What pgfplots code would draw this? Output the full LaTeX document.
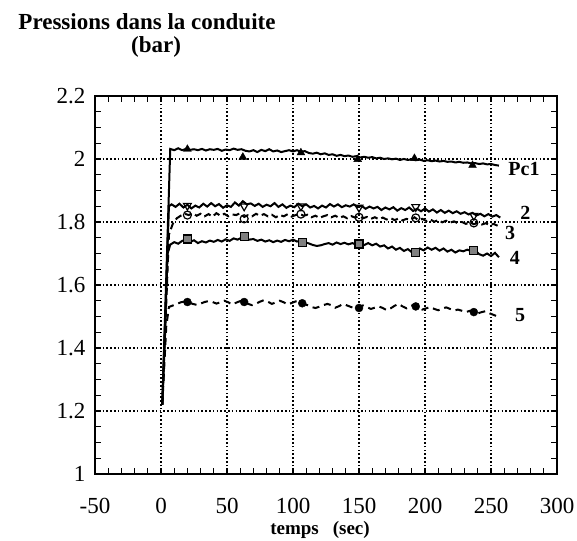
\documentclass[border=0pt]{standalone}
\usepackage{fontspec}
\setmainfont{Liberation Serif}
\usepackage{pgfplots}
\pgfplotsset{compat=1.18}
\begin{document}
\begin{tikzpicture}
\useasboundingbox (-95pt,-66pt) rectangle (482pt,474pt);
\begin{axis}[
  scale only axis, width=462pt, height=378pt,
  xmin=-50, xmax=300, ymin=1, ymax=2.2,
  xtick={-50,0,50,100,150,200,250,300},
  ytick={1,1.2,1.4,1.6,1.8,2,2.2},
  minor x tick num=4, minor y tick num=3,
  tick align=inside,
  major tick length=6pt, minor tick length=6pt,
  every tick/.style={line width=1.3pt, black},
  axis line style={line width=1.8pt},
  grid=major,
  major grid style={line width=1.6pt, dash pattern=on 1.6pt off 2.2pt, black},
  /pgf/number format/assume math mode=true,
  ticklabel style={font=\fontsize{23}{27}\selectfont},
  xticklabel style={yshift=-21pt},
  yticklabel style={xshift=-6pt},
  clip=false,
]
% Pc1
\addplot[black, line width=2pt] coordinates {
(1,1.22) (7,2.032) (10,2.028) (13,2.034) (16,2.028) (19,2.032) (22,2.029) (25,2.031) (28,2.028) (31,2.032) (34,2.027) (37,2.031) (40,2.029) (43,2.032) (46,2.026) (49,2.030) (52,2.028) (55,2.033) (58,2.029) (61,2.031) (64,2.026) (67,2.024) (70,2.028) (73,2.022) (76,2.029) (79,2.025) (82,2.031) (85,2.024) (88,2.027) (91,2.022) (94,2.025) (97,2.028) (100,2.024) (103,2.028) (106,2.023) (109,2.025) (112,2.019) (115,2.017) (118,2.020) (121,2.015) (124,2.018) (127,2.013) (130,2.015) (133,2.010) (136,2.013) (139,2.009) (142,2.011) (145,2.007) (148,2.009) (151,2.005) (154,2.007) (157,2.004) (160,2.006) (163,2.002) (166,2.004) (169,2.000) (172,2.002) (175,1.999) (178,2.001) (181,1.997) (184,2.000) (187,1.997) (190,1.999) (193,1.996) (196,1.998) (199,1.994) (202,1.996) (205,1.993) (208,1.995) (211,1.992) (214,1.994) (217,1.991) (220,1.992) (223,1.989) (226,1.991) (229,1.988) (232,1.989) (235,1.986) (238,1.987) (241,1.984) (244,1.986) (247,1.983) (250,1.984) (253,1.981) (256,1.979)
};
\addplot[only marks, mark=triangle*, mark size=4.5pt, black] coordinates {
(20,2.031) (62,2.006) (106,2.020) (149,1.999) (192,2.002) (236,1.980)
};
% line 2
\addplot[black, line width=2pt] coordinates {
(1,1.22) (6,1.850) (8,1.856) (11,1.848) (14,1.858) (17,1.846) (20,1.855) (23,1.843) (26,1.852) (29,1.846) (32,1.858) (35,1.849) (38,1.860) (41,1.850) (44,1.857) (47,1.845) (50,1.853) (53,1.848) (56,1.862) (59,1.852) (62,1.866) (65,1.856) (68,1.859) (71,1.851) (74,1.858) (77,1.848) (80,1.855) (83,1.850) (86,1.860) (89,1.848) (92,1.856) (95,1.845) (98,1.852) (101,1.847) (104,1.858) (107,1.850) (110,1.856) (113,1.846) (116,1.851) (119,1.843) (122,1.852) (125,1.846) (128,1.857) (131,1.849) (134,1.856) (137,1.847) (140,1.853) (143,1.849) (146,1.856) (149,1.848) (152,1.851) (155,1.842) (158,1.849) (161,1.843) (164,1.848) (167,1.838) (170,1.846) (173,1.840) (176,1.847) (179,1.836) (182,1.844) (185,1.838) (188,1.846) (191,1.835) (194,1.842) (197,1.834) (200,1.843) (203,1.833) (206,1.840) (209,1.830) (212,1.838) (215,1.829) (218,1.836) (221,1.828) (224,1.834) (227,1.826) (230,1.831) (233,1.824) (236,1.829) (239,1.821) (242,1.826) (245,1.818) (248,1.825) (251,1.817) (254,1.822) (257,1.814)
};
\addplot[only marks, mark=triangle, mark options={rotate=180, line width=1.2pt}, mark size=4.5pt, black] coordinates {
(20,1.852) (63,1.850) (106,1.850) (150,1.846) (193,1.848) (237,1.820)
};
% line 3
\addplot[black, line width=2pt, dash pattern=on 7pt off 4pt] coordinates {
(1,1.22) (6,1.760) (9,1.795) (12,1.812) (15,1.820) (18,1.826) (21,1.822) (24,1.828) (27,1.820) (30,1.826) (33,1.818) (36,1.825) (39,1.817) (42,1.828) (45,1.820) (48,1.826) (51,1.818) (54,1.824) (57,1.822) (60,1.828) (63,1.816) (66,1.822) (69,1.818) (72,1.826) (75,1.820) (78,1.825) (81,1.818) (84,1.823) (87,1.815) (90,1.822) (93,1.818) (96,1.825) (99,1.817) (102,1.822) (105,1.826) (108,1.820) (111,1.823) (114,1.815) (117,1.820) (120,1.813) (123,1.818) (126,1.822) (129,1.815) (132,1.820) (135,1.813) (138,1.818) (141,1.812) (144,1.819) (147,1.814) (150,1.819) (153,1.812) (156,1.816) (159,1.810) (162,1.815) (165,1.809) (168,1.814) (171,1.808) (174,1.812) (177,1.806) (180,1.811) (183,1.805) (186,1.810) (189,1.806) (192,1.815) (195,1.806) (198,1.810) (201,1.803) (204,1.808) (207,1.801) (210,1.806) (213,1.799) (216,1.804) (219,1.798) (222,1.802) (225,1.796) (228,1.800) (231,1.794) (234,1.799) (237,1.793) (240,1.797) (243,1.792) (246,1.796) (249,1.790) (252,1.794) (255,1.788)
};
\addplot[only marks, mark=o, mark size=4pt, mark options={line width=1.2pt}, black] coordinates {
(20,1.822) (63,1.810) (106,1.825) (150,1.815) (193,1.813) (237,1.797)
};
% line 4
\addplot[black, line width=2pt] coordinates {
(1,1.22) (5,1.700) (7,1.728) (10,1.736) (13,1.731) (16,1.740) (19,1.744) (22,1.736) (25,1.742) (28,1.733) (31,1.739) (34,1.735) (37,1.741) (40,1.737) (43,1.743) (46,1.738) (49,1.745) (52,1.740) (55,1.748) (58,1.744) (61,1.750) (64,1.748) (67,1.744) (70,1.746) (73,1.740) (76,1.744) (79,1.738) (82,1.742) (85,1.736) (88,1.741) (91,1.737) (94,1.743) (97,1.739) (100,1.744) (103,1.738) (106,1.740) (109,1.736) (112,1.732) (115,1.727) (118,1.724) (121,1.726) (124,1.730) (127,1.733) (130,1.728) (133,1.735) (136,1.730) (139,1.734) (142,1.729) (145,1.733) (148,1.728) (151,1.732) (154,1.727) (157,1.733) (160,1.726) (163,1.731) (166,1.722) (169,1.726) (172,1.716) (175,1.722) (178,1.712) (181,1.718) (184,1.708) (187,1.714) (190,1.704) (193,1.706) (196,1.716) (199,1.710) (202,1.719) (205,1.712) (208,1.718) (211,1.709) (214,1.716) (217,1.706) (220,1.712) (223,1.703) (226,1.710) (229,1.707) (232,1.712) (235,1.708) (238,1.710) (241,1.698) (244,1.693) (247,1.700) (250,1.692) (253,1.702) (256,1.688)
};
\addplot[only marks, mark=square*, mark size=4pt, mark options={fill=gray, draw=black, line width=1.2pt}] coordinates {
(20,1.746) (63,1.754) (107,1.736) (150,1.730) (193,1.704) (237,1.710)
};
% line 5
\addplot[black, line width=2pt, dash pattern=on 7pt off 5pt] coordinates {
(1,1.22) (4,1.470) (6,1.530) (9,1.535) (12,1.540) (15,1.545) (18,1.548) (21,1.545) (24,1.540) (27,1.537) (30,1.541) (33,1.546) (36,1.549) (39,1.546) (42,1.541) (45,1.545) (48,1.550) (51,1.545) (54,1.538) (57,1.544) (60,1.549) (63,1.545) (66,1.540) (69,1.536) (72,1.541) (75,1.547) (78,1.552) (81,1.547) (84,1.540) (87,1.545) (90,1.550) (93,1.545) (96,1.538) (99,1.543) (102,1.548) (105,1.544) (108,1.540) (111,1.536) (114,1.530) (117,1.527) (120,1.531) (123,1.536) (126,1.540) (129,1.536) (132,1.528) (135,1.533) (138,1.540) (141,1.535) (144,1.530) (147,1.526) (150,1.530) (153,1.535) (156,1.530) (159,1.524) (162,1.528) (165,1.532) (168,1.527) (171,1.520) (174,1.526) (177,1.534) (180,1.540) (183,1.532) (186,1.526) (189,1.533) (192,1.538) (195,1.530) (198,1.522) (201,1.526) (204,1.530) (207,1.524) (210,1.520) (213,1.525) (216,1.529) (219,1.524) (222,1.519) (225,1.522) (228,1.518) (231,1.514) (234,1.518) (237,1.514) (240,1.510) (243,1.514) (246,1.517) (249,1.510) (252,1.505) (255,1.500)
};
\addplot[only marks, mark=*, mark size=4pt, black] coordinates {
(20,1.546) (63,1.546) (107,1.542) (150,1.527) (193,1.532) (237,1.514)
};
\begin{scope}[font=\fontsize{20}{24}\selectfont\bfseries]
\node at (axis cs:275,1.968) {Pc1};
\node at (axis cs:276,1.829) {2};
\node at (axis cs:264.5,1.765) {3};
\node at (axis cs:268,1.686) {4};
\node at (axis cs:272,1.505) {5};
\end{scope}
\end{axis}
\node[font=\fontsize{23}{27}\selectfont\bfseries] at (52pt,452pt) {Pressions dans la conduite};
\node[font=\fontsize{23}{27}\selectfont\bfseries] at (61pt,427pt) {(bar)};
\node[font=\fontsize{19}{22}\selectfont\bfseries] at (225pt,-56pt) {temps\hspace{14pt}(sec)};
\end{tikzpicture}
\end{document}
